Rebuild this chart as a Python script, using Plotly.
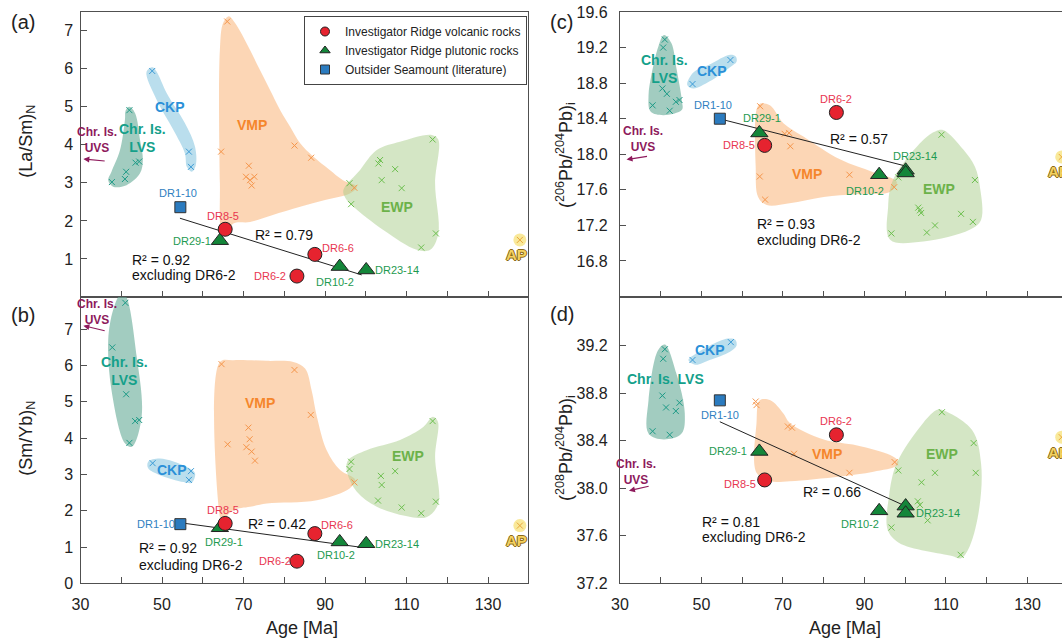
import plotly.graph_objects as go

FONT = "Liberation Sans, Arial, sans-serif"
AXC = "#505050"

# ---------------- sample data ----------------
volc_names = ["DR8-5", "DR6-6", "DR6-2"]
volc_age = [65.5, 87.5, 83.1]
a_volc = [1.78, 1.12, 0.55]
b_volc = [1.65, 1.37, 0.61]
c_volc = [18.10, None, 18.47]
d_volc = [38.07, None, 38.45]

plut_names = ["DR29-1", "DR10-2", "DR23-14", ""]
plut_age = [64.2, 93.6, 100.1, 100.1]
a_plut = [1.48, 0.80, 0.71, None]
b_plut = [1.53, 1.14, 1.09, None]
c_plut = [18.24, 17.77, 17.82, 17.79]
d_plut = [38.31, 37.81, 37.85, 37.79]

outs_names = ["DR1-10"]
outs_age = [54.5]
a_outs = [2.36]
b_outs = [1.63]
c_outs = [18.40]
d_outs = [38.74]

ap_age_left = [137.8]
ap_age_right = [138.4]
a_ap = [1.5]
b_ap = [1.59]
c_ap = [17.97]
d_ap = [38.43]

# regression lines (end points)
a_fit_age, a_fit = [54.4, 99.0], [2.07, 0.58]
b_fit_age, b_fit = [54.4, 99.0], [1.67, 0.99]
c_fit_age, c_fit = [55.2, 99.9], [18.39, 17.87]
d_fit_age, d_fit = [54.5, 99.4], [38.56, 37.86]
a_r2, a_r2x = "R² = 0.79", "R² = 0.92"
b_r2, b_r2x = "R² = 0.42", "R² = 0.92"
c_r2, c_r2x = "R² = 0.57", "R² = 0.93"
d_r2, d_r2x = "R² = 0.66", "R² = 0.81"

legend_names = ["Investigator Ridge volcanic rocks", "Investigator Ridge plutonic rocks",
                "Outsider Seamount (literature)"]

# ---------------- field outlines (age, value) ----------------
a_LVS_out = ([41.1, 42.0, 43.4, 44.6, 45.3, 44.6, 41.3, 38.0, 36.8, 37.6, 39.7, 40.9],
             [4.91, 5.0, 4.83, 4.13, 3.6, 3.25, 2.94, 2.9, 3.07, 3.29, 3.86, 4.65])
a_CKP_out = ([46.2, 48.7, 52.8, 55.6, 56.1, 57.3, 58.3, 58.1, 55.6, 51.2, 48.7, 47.7],
             [5.92, 5.18, 4.39, 3.78, 3.42, 3.29, 3.47, 3.95, 4.57, 5.35, 5.92, 6.04])
a_VMP_out = ([64.2, 64.2, 65.0, 66.4, 67.6, 69.1, 71.6, 74.0, 76.5, 79.0, 81.4, 83.9, 87.1, 91.0, 94.4, 97.8,
              96.1, 90.0, 83.9, 77.0, 71.6, 67.5, 65.5, 64.6],
             [3.0, 6.5, 7.2, 7.38, 7.25, 7.0, 6.49, 5.97, 5.44, 4.91, 4.48, 4.04, 3.69, 3.35, 3.07, 2.9,
              2.72, 2.55, 2.37, 2.15, 1.97, 1.93, 1.6, 1.7])
a_EWP_out = ([94.5, 98.6, 102.7, 108.4, 116.2, 117.8, 117.0, 117.8, 115.8, 112.5, 104.3, 97.0, 95.0],
             [2.81, 3.34, 3.86, 4.08, 4.26, 4.13, 2.99, 1.67, 1.24, 1.24, 1.76, 2.37, 2.6])

b_LVS_out = ([40.9, 43.8, 45.0, 42.6, 40.9, 37.6, 36.8, 38.0, 39.7],
             [7.95, 6.24, 4.59, 3.76, 3.86, 5.33, 6.70, 7.53, 7.95])
b_CKP_out = ([46.6, 49.5, 56.0, 58.1, 57.3, 55.3, 49.5, 46.6],
             [3.35, 3.44, 3.21, 3.03, 2.77, 2.79, 2.98, 3.17])
b_VMP_out = ([64.2, 64.2, 64.6, 67.5, 71.6, 75.7, 88.0, 96.1, 97.4, 93.7, 90.4, 88.0, 86.7, 85.1, 82.2, 75.7, 67.5],
             [6.1, 1.83, 1.72, 2.02, 2.11, 2.2, 2.29, 2.62, 2.85, 3.12, 3.67, 4.59, 5.32, 5.92, 6.1, 6.13, 6.15])
b_EWP_out = ([95.3, 95.7, 100.2, 108.4, 114.1, 116.5, 117.7, 117.0, 117.8, 115.0, 111.0, 102.7, 97.8],
             [3.12, 3.4, 3.67, 3.95, 4.31, 4.59, 4.45, 3.49, 2.2, 1.83, 1.83, 2.11, 2.52])

c_LVS_out = ([40.8, 42.6, 43.8, 45.2, 45.2, 40.7, 37.5, 37.0, 37.8, 39.4],
             [19.34, 19.25, 18.98, 18.6, 18.5, 18.44, 18.48, 18.66, 18.91, 19.21])
c_CKP_out = ([46.5, 48.0, 52.0, 57.0, 58.6, 58.4, 57.0, 52.0, 48.0],
             [18.78, 18.74, 18.82, 18.98, 19.04, 19.1, 19.12, 19.01, 18.92])
c_VMP_out = ([63.5, 64.4, 66.8, 70.1, 75.0, 84.1, 92.0, 97.9, 96.3, 88.0, 80.0, 71.6, 66.0, 63.9, 63.3],
             [18.5, 18.57, 18.55, 18.35, 18.2, 17.94, 17.8, 17.69, 17.58, 17.55, 17.52, 17.45, 17.43, 17.52, 17.86])
c_EWP_out = ([109.4, 114.3, 117.1, 118.3, 118.6, 115.8, 104.4, 96.3, 95.8, 97.0, 104.4, 107.5],
             [18.27, 18.05, 17.86, 17.64, 17.26, 17.15, 17.02, 17.04, 17.41, 17.71, 18.16, 18.26])

d_LVS_out = ([41.0, 43.8, 45.9, 45.1, 40.7, 37.0, 37.0, 39.3],
             [39.21, 38.97, 38.63, 38.46, 38.41, 38.46, 38.74, 39.16])
d_CKP_out = ([46.8, 48.5, 52.0, 57.0, 58.6, 58.3, 56.5, 52.0, 48.5],
             [39.08, 39.04, 39.08, 39.15, 39.2, 39.25, 39.26, 39.2, 39.13])
d_VMP_out = ([64.3, 66.9, 70.1, 71.7, 80.0, 88.2, 96.3, 98.3, 97.9, 92.2, 84.0, 71.7, 66.9, 63.5, 63.5],
             [38.74, 38.74, 38.63, 38.55, 38.41, 38.36, 38.28, 38.23, 38.19, 38.14, 38.1, 38.06, 38.06, 38.13, 38.55])
d_EWP_out = ([109.0, 116.4, 118.6, 118.2, 115.8, 113.7, 111.5, 98.5, 95.7, 96.0, 97.9, 104.4, 107.8],
             [38.66, 38.49, 38.21, 37.84, 37.51, 37.41, 37.43, 37.54, 37.65, 37.93, 38.21, 38.55, 38.66])

# ---------------- field data points (age, value) ----------------
a_LVS_pts = ([42.0, 37.7, 41.2, 40.9, 43.5, 44.4], [4.91, 3.02, 3.29, 3.10, 3.53, 3.56])
a_CKP_pts = ([47.6, 56.6, 57.1], [5.94, 3.82, 3.42])
a_VMP_pts = ([66.0, 64.5, 71.3, 70.6, 71.6, 72.65, 72.0, 82.5, 86.6, 97.2],
             [7.24, 3.82, 3.45, 3.16, 3.07, 3.16, 2.93, 3.98, 3.66, 2.87])
a_EWP_pts = ([116.4, 103.5, 103.1, 107.2, 103.9, 108.8, 96.0, 96.4, 117.2, 113.6],
             [4.14, 3.6, 3.51, 3.36, 3.07, 2.86, 2.99, 2.44, 1.67, 1.30])

b_LVS_pts = ([41.0, 37.8, 41.2, 43.4, 44.4, 42.0], [7.73, 6.50, 5.21, 4.47, 4.50, 3.87])
b_CKP_pts = ([47.7, 57.1, 56.6], [3.31, 3.09, 2.85])
b_VMP_pts = ([64.6, 66.1, 71.2, 71.5, 70.7, 72.0, 72.8, 82.5, 86.5, 97.2],
             [6.04, 3.83, 4.29, 3.97, 3.75, 3.63, 3.38, 5.88, 4.64, 2.78])
b_EWP_pts = ([116.4, 96.4, 96.0, 107.2, 103.7, 103.9, 103.0, 108.8, 117.2, 113.6],
             [4.47, 3.35, 3.15, 3.09, 2.96, 2.71, 2.28, 2.09, 2.25, 1.93])

c_LVS_pts = ([41.0, 40.6, 40.4, 41.5, 38.0, 42.2, 43.7, 44.6],
             [19.29, 19.20, 18.74, 18.68, 18.55, 18.49, 18.59, 18.61])
c_CKP_pts = ([47.8, 57.1], [18.79, 19.06])
c_VMP_pts = ([64.4, 64.3, 65.6, 70.4, 71.5, 71.8, 86.3, 97.3],
             [18.54, 17.75, 17.49, 18.23, 18.24, 18.09, 17.77, 17.63])
c_EWP_pts = ([108.9, 117.1, 98.3, 103.2, 103.6, 103.9, 113.7, 116.6, 107.3, 105.3, 96.6],
             [18.22, 17.71, 17.74, 17.40, 17.37, 17.34, 17.33, 17.24, 17.20, 17.12, 17.11])

d_LVS_pts = ([41.0, 40.6, 40.4, 41.3, 43.7, 44.6, 38.0, 42.2],
             [39.17, 39.09, 38.78, 38.68, 38.65, 38.72, 38.48, 38.45])
d_CKP_pts = ([47.8, 57.2], [39.08, 39.23])
d_VMP_pts = ([63.3, 63.5, 71.2, 72.2, 72.7, 86.3, 97.4],
             [38.73, 38.70, 38.52, 38.51, 38.29, 38.13, 38.22])
d_EWP_pts = ([109.0, 116.8, 98.3, 107.3, 117.3, 104.0, 103.1, 103.6, 105.5, 96.6, 113.6],
             [38.64, 38.38, 38.15, 38.13, 38.13, 38.05, 37.89, 37.86, 37.73, 37.67, 37.44])

# ---------------- axis ticks ----------------
age_ticks = [30, 50, 70, 90, 110, 130]
age_minor = [40, 60, 80, 100, 120]
a_ticks = [1, 2, 3, 4, 5, 6, 7]
b_ticks = [0, 1, 2, 3, 4, 5, 6, 7]
c_ticks = [16.8, 17.2, 17.6, 18.0, 18.4, 18.8, 19.2, 19.6]
d_ticks = [37.2, 37.6, 38.0, 38.4, 38.8, 39.2]

# ---------------- styles ----------------
FIELD_STYLE = {
    "LVS": dict(fill="rgba(100,170,150,0.6)", mark="#1c9a86", text="#14a08a"),
    "CKP": dict(fill="rgba(140,200,225,0.6)", mark="#3a9ad6", text="#2a90d8"),
    "VMP": dict(fill="rgba(250,180,120,0.55)", mark="#f5954a", text="#f5862c"),
    "EWP": dict(fill="rgba(170,205,140,0.5)", mark="#6cbf4e", text="#6cb24a"),
}
RED, GREEN, BLUE = "#e6232f", "#14863a", "#2b7bbf"
RED_T, GREEN_T, BLUE_T = "#e8364f", "#1e9a50", "#2f7fc1"
PURPLE = "#8e1a5c"

PANELS = [
    dict(key="a", xr="x", yr="y", volc=a_volc, plut=a_plut, outs=a_outs, ap=a_ap, apx=ap_age_left,
         fit=(a_fit_age, a_fit), r2=a_r2, r2x=a_r2x,
         fields={"LVS": (a_LVS_out, a_LVS_pts), "CKP": (a_CKP_out, a_CKP_pts),
                 "VMP": (a_VMP_out, a_VMP_pts), "EWP": (a_EWP_out, a_EWP_pts)}),
    dict(key="b", xr="x2", yr="y2", volc=b_volc, plut=b_plut, outs=b_outs, ap=b_ap, apx=ap_age_left,
         fit=(b_fit_age, b_fit), r2=b_r2, r2x=b_r2x,
         fields={"LVS": (b_LVS_out, b_LVS_pts), "CKP": (b_CKP_out, b_CKP_pts),
                 "VMP": (b_VMP_out, b_VMP_pts), "EWP": (b_EWP_out, b_EWP_pts)}),
    dict(key="c", xr="x3", yr="y3", volc=c_volc, plut=c_plut, outs=c_outs, ap=c_ap, apx=ap_age_right,
         fit=(c_fit_age, c_fit), r2=c_r2, r2x=c_r2x,
         fields={"LVS": (c_LVS_out, c_LVS_pts), "CKP": (c_CKP_out, c_CKP_pts),
                 "VMP": (c_VMP_out, c_VMP_pts), "EWP": (c_EWP_out, c_EWP_pts)}),
    dict(key="d", xr="x4", yr="y4", volc=d_volc, plut=d_plut, outs=d_outs, ap=d_ap, apx=ap_age_right,
         fit=(d_fit_age, d_fit), r2=d_r2, r2x=d_r2x,
         fields={"LVS": (d_LVS_out, d_LVS_pts), "CKP": (d_CKP_out, d_CKP_pts),
                 "VMP": (d_VMP_out, d_VMP_pts), "EWP": (d_EWP_out, d_EWP_pts)}),
]

# label placement (pixel shifts) and annotation anchors
LABEL_SHIFT = {
    "a": {"DR1-10": (-2, 14), "DR8-5": (-2, 13), "DR29-1": (-28, 0), "DR6-6": (23, 6),
          "DR6-2": (-27, 0), "DR10-2": (-5, -15), "DR23-14": (31, 0)},
    "b": {"DR1-10": (-24, 0), "DR8-5": (-2, 13), "DR29-1": (4, -14), "DR6-6": (22, 9),
          "DR6-2": (-22, 0), "DR10-2": (-4, -13), "DR23-14": (31, 0)},
    "c": {"DR1-10": (-7, 14), "DR29-1": (3, 15), "DR8-5": (-26, 0), "DR6-2": (0, 13),
          "DR10-2": (-14, -16), "DR23-14": (9, 14)},
    "d": {"DR1-10": (0, -15), "DR29-1": (-31, 0), "DR8-5": (-25, -4), "DR6-2": (0, 14),
          "DR10-2": (-19, -13), "DR23-14": (32, -7)},
}
FIELD_LABEL_POS = {
    "a": {"LVS": (45.3, 4.18), "CKP": (52.0, 4.99), "VMP": (72.0, 4.52), "EWP": (107.6, 2.37), "UVS": (34.0, 4.13)},
    "b": {"LVS": (40.8, 5.86), "CKP": (52.4, 3.12), "VMP": (74.0, 4.98), "EWP": (110.4, 3.51), "UVS": (34.0, 7.48)},
    "c": {"LVS": (41.0, 18.96), "CKP": (52.5, 18.94), "VMP": (75.8, 17.78), "EWP": (108.3, 17.61), "UVS": (35.6, 18.17)},
    "d": {"LVS": (41.2, 38.92), "CKP": (52.2, 39.16), "VMP": (80.8, 38.29), "EWP": (108.9, 38.29), "UVS": (33.9, 38.14)},
}
UVS_ARROW = {"a": ((36.3, 3.57), (30.7, 3.63)), "b": ((36.3, 6.95), (30.7, 7.1)),
             "c": ((37.0, 17.98), (31.6, 17.94)), "d": ((37.4, 38.02), (32.2, 37.98))}
R2_POS = {"a": (80.0, 1.63), "b": (78.3, 1.63), "c": (88.7, 18.17), "d": (82.0, 37.97)}
R2X_POS = {"a": (42.15, 0.972, 0.578), "b": (43.8, 0.964, 0.504),
           "c": (63.1, 17.216, 17.036), "d": (49.6, 37.719, 37.592)}

VOLC_MARK = dict(symbol="circle", color=RED, line=dict(width=1, color="#222"))
PLUT_MARK = dict(symbol="triangle-up", color=GREEN, line=dict(width=1, color="#222"))
OUTS_MARK = dict(symbol="square", color=BLUE, line=dict(width=1, color="#333"))

fig = go.Figure()
ann = []


def text_ann(**kw):
    d = dict(showarrow=False, xanchor="center", yanchor="middle")
    d.update(kw)
    return d


for p in PANELS:
    xr, yr, k = p["xr"], p["yr"], p["key"]
    # fields
    for name in ["LVS", "CKP", "VMP", "EWP"]:
        (ox, oy), (px, py) = p["fields"][name]
        st = FIELD_STYLE[name]
        fig.add_trace(go.Scatter(x=list(ox) + [ox[0]], y=list(oy) + [oy[0]], xaxis=xr, yaxis=yr,
                                 mode="lines", line=dict(shape="spline", smoothing=1.0, width=0, color=st["fill"]),
                                 fill="toself", fillcolor=st["fill"], hoverinfo="skip", showlegend=False))
    for name in ["LVS", "CKP", "VMP", "EWP"]:
        (ox, oy), (px, py) = p["fields"][name]
        st = FIELD_STYLE[name]
        fig.add_trace(go.Scatter(x=px, y=py, xaxis=xr, yaxis=yr, mode="markers",
                                 marker=dict(symbol="x-thin", size=6, line=dict(width=1, color=st["mark"])),
                                 hoverinfo="skip", showlegend=False))
    # AP
    fig.add_trace(go.Scatter(x=p["apx"], y=p["ap"], xaxis=xr, yaxis=yr, mode="markers",
                             marker=dict(symbol="circle", size=13, color="rgba(247,225,120,0.75)",
                                         line=dict(width=0)), hoverinfo="skip", showlegend=False))
    fig.add_trace(go.Scatter(x=p["apx"], y=p["ap"], xaxis=xr, yaxis=yr, mode="markers",
                             marker=dict(symbol="x-thin", size=6, line=dict(width=1, color="#e8a63a")),
                             hoverinfo="skip", showlegend=False))
    # regression line
    fig.add_trace(go.Scatter(x=p["fit"][0], y=p["fit"][1], xaxis=xr, yaxis=yr, mode="lines",
                             line=dict(color="#222", width=1), hoverinfo="skip", showlegend=False))
    # samples
    fig.add_trace(go.Scatter(x=outs_age, y=p["outs"], xaxis=xr, yaxis=yr, mode="markers",
                             name=legend_names[2], showlegend=False, marker=dict(size=11, **OUTS_MARK)))
    fig.add_trace(go.Scatter(x=plut_age, y=p["plut"], xaxis=xr, yaxis=yr, mode="markers",
                             name=legend_names[1], showlegend=False, marker=dict(size=15, **PLUT_MARK)))
    fig.add_trace(go.Scatter(x=volc_age, y=p["volc"], xaxis=xr, yaxis=yr, mode="markers",
                             name=legend_names[0], showlegend=False, marker=dict(size=14, **VOLC_MARK)))

    # sample labels
    shifts = LABEL_SHIFT[k]
    for names, ages, vals, col in [(volc_names, volc_age, p["volc"], RED_T),
                                   (plut_names, plut_age, p["plut"], GREEN_T),
                                   (outs_names, outs_age, p["outs"], BLUE_T)]:
        for n, a, v in zip(names, ages, vals):
            if v is None or n not in shifts:
                continue
            dx, dy = shifts[n]
            ann.append(text_ann(x=a, y=v, xref=xr, yref=yr, text=n, xshift=dx, yshift=dy,
                                font=dict(size=11, color=col, family=FONT)))
    # field labels
    pos = FIELD_LABEL_POS[k]
    for name, txt in [("LVS", "Chr. Is. LVS" if k == "d" else "Chr. Is.<br>LVS"), ("CKP", "CKP"),
                      ("VMP", "VMP"), ("EWP", "EWP")]:
        ann.append(text_ann(x=pos[name][0], y=pos[name][1], xref=xr, yref=yr, text="<b>%s</b>" % txt,
                            font=dict(size=14, color=FIELD_STYLE[name]["text"], family=FONT)))
    ann.append(text_ann(x=pos["UVS"][0], y=pos["UVS"][1], xref=xr, yref=yr, text="<b>Chr. Is.<br>UVS</b>",
                        font=dict(size=12, color=PURPLE, family=FONT)))
    (tx, ty), (hx, hy) = UVS_ARROW[k]
    ann.append(dict(x=hx, y=hy, ax=tx, ay=ty, xref=xr, yref=yr, axref=xr, ayref=yr, text="",
                    showarrow=True, arrowhead=2, arrowsize=1, arrowwidth=1.2, arrowcolor=PURPLE))
    # AP label
    ann.append(text_ann(x=p["apx"][0], y=p["ap"][0], xref=xr, yref=yr, text="<b>AP</b>",
                        yshift=-15, xshift=-3,
                        font=dict(size=15, color="#f3d060", family=FONT,
                                  shadow="1px 0 0 #8a6a1a, -1px 0 0 #8a6a1a, 0 1px 0 #8a6a1a, 0 -1px 0 #8a6a1a")))
    # R² texts
    rx, ry = R2_POS[k]
    ann.append(text_ann(x=rx, y=ry, xref=xr, yref=yr, text=p["r2"],
                        font=dict(size=14, color="#111", family=FONT)))
    bx, by1, by2 = R2X_POS[k]
    ann.append(text_ann(x=bx, y=by1, xref=xr, yref=yr, text=p["r2x"], xanchor="left",
                        font=dict(size=14, color="#111", family=FONT)))
    ann.append(text_ann(x=bx, y=by2, xref=xr, yref=yr, text="excluding DR6-2", xanchor="left",
                        font=dict(size=14, color="#111", family=FONT)))

# legend entries (legend-only traces with the smaller legend symbols)
for nm, mk in zip(legend_names, [VOLC_MARK, PLUT_MARK, OUTS_MARK]):
    fig.add_trace(go.Scatter(x=[None], y=[None], xaxis="x", yaxis="y", mode="markers", name=nm,
                             showlegend=True, marker=dict(size=9, **mk)))

# panel letters and axis titles
W, H = 1062.0, 640.0
for txt, px, py in [("(a)", 22.7, 21.7), ("(b)", 22.7, 315), ("(c)", 561.7, 21.7), ("(d)", 561.7, 314)]:
    ann.append(text_ann(x=px / W, y=1 - py / H, xref="paper", yref="paper", text=txt,
                        font=dict(size=20, color="#222", family=FONT)))
for txt, px, py in [("(La/Sm)<sub>N</sub>", 26.7, 141), ("(Sm/Yb)<sub>N</sub>", 26.7, 438),
                    ("(<sup>206</sup>Pb/<sup>204</sup>Pb)<sub>i</sub>", 565, 155),
                    ("(<sup>208</sup>Pb/<sup>204</sup>Pb)<sub>i</sub>", 565, 448)]:
    ann.append(text_ann(x=px / W, y=1 - py / H, xref="paper", yref="paper", text=txt,
                        textangle=-90, font=dict(size=18, color="#222", family=FONT)))
for px in [302, 845]:
    ann.append(text_ann(x=px / W, y=1 - 628 / H, xref="paper", yref="paper", text="Age [Ma]",
                        font=dict(size=18, color="#222", family=FONT)))


def xaxis(domain, rng, anchor, labels):
    return dict(domain=domain, range=rng, anchor=anchor, showline=True, mirror=True, linecolor=AXC,
                linewidth=1.3, ticks="inside", ticklen=6, tickwidth=1.2, tickcolor=AXC, tickmode="array",
                tickvals=age_ticks, showticklabels=labels, tickfont=dict(size=16, color="#222", family=FONT),
                ticklabelstandoff=6, automargin=False,
                minor=dict(tickmode="array", tickvals=age_minor, ticks="inside", ticklen=6, tickwidth=1.2,
                           tickcolor=AXC),
                showgrid=False, zeroline=False, fixedrange=True)


def yaxis(domain, rng, anchor, ticks, fmt, standoff):
    return dict(domain=domain, range=rng, anchor=anchor, showline=True, mirror=True, linecolor=AXC,
                linewidth=1.3, ticks="inside", ticklen=6, tickwidth=1.2, tickcolor=AXC, tickmode="array",
                tickvals=ticks, ticktext=[fmt.format(t) for t in ticks], ticklabelstandoff=standoff,
                tickfont=dict(size=16, color="#222", family=FONT), automargin=False,
                showgrid=False, zeroline=False, fixedrange=True)


xl = [80.5 / W, 528 / W]
xrr = [620 / W, 1.0]
ytop = [1 - 297 / H, 1 - 12 / H]
ybot = [1 - 583.3 / H, 1 - 297 / H]

fig.update_layout(
    width=1062, height=640, margin=dict(l=0, r=0, t=0, b=0, pad=0, autoexpand=False),
    paper_bgcolor="white", plot_bgcolor="rgba(0,0,0,0)",
    font=dict(family=FONT, color="#222"),
    xaxis=xaxis(xl, [30, 139.8], "y", False),
    xaxis2=xaxis(xl, [30, 139.8], "y2", True),
    xaxis3=xaxis(xrr, [30, 138.47], "y3", False),
    xaxis4=xaxis(xrr, [30, 138.47], "y4", True),
    yaxis=yaxis(ytop, [0, 7.49], "x", a_ticks, "{:.0f}", 3),
    yaxis2=yaxis(ybot, [0, 7.89], "x2", b_ticks, "{:.0f}", 3),
    yaxis3=yaxis(ytop, [16.395, 19.6], "x3", c_ticks, "{:.1f}", 8),
    yaxis4=yaxis(ybot, [37.2, 39.61], "x4", d_ticks, "{:.1f}", 8),
    annotations=ann,
    showlegend=True,
    legend=dict(x=527 / W, y=1 - 16 / H, xanchor="right", yanchor="top", bgcolor="white",
                bordercolor="#444", borderwidth=1, font=dict(size=12, color="#222", family=FONT),
                itemsizing="trace", tracegroupgap=3, traceorder="normal"),
)

fig.write_html("out.html")
